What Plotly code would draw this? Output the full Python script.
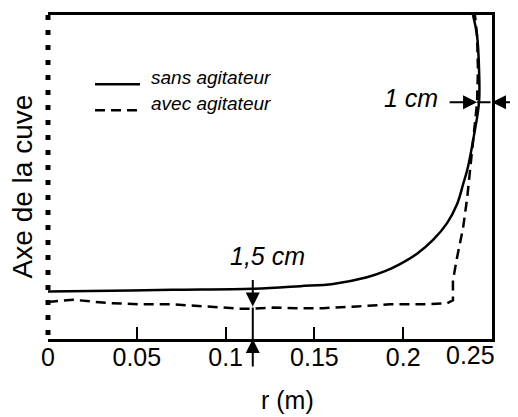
import plotly.graph_objects as go

# ---- data (r in m, height in cm above the bottom) ----
r_sans = [0.0, 0.035, 0.070, 0.1154, 0.142, 0.1605, 0.1796, 0.1898, 0.1982, 0.2078, 0.2168,
          0.2247, 0.2303, 0.2337, 0.2365, 0.2399, 0.2427, 0.2427, 0.2416, 0.2393]
h_sans = [2.35, 2.38, 2.43, 2.48, 2.61, 2.72, 3.05, 3.35, 3.70, 4.21, 4.89,
          5.72, 6.65, 7.63, 8.51, 10.08, 11.69, 13.31, 14.97, 16.0]

r_avec = [0.0, 0.0141, 0.0332, 0.0518, 0.0704, 0.0895, 0.1081, 0.1154, 0.1267, 0.1402,
          0.1548, 0.1740, 0.1926, 0.2111, 0.2247, 0.2280, 0.2280, 0.2303, 0.2337,
          0.2360, 0.2376, 0.2399, 0.2416, 0.2421, 0.2416, 0.2404]
h_avec = [1.83, 1.94, 1.78, 1.71, 1.71, 1.61, 1.50, 1.50, 1.55, 1.52,
          1.52, 1.61, 1.71, 1.71, 1.76, 1.91, 2.89, 4.01, 5.48,
          6.95, 8.27, 10.08, 11.69, 13.31, 14.97, 16.0]

tick_vals = [0, 0.05, 0.1, 0.15, 0.2, 0.25]
tick_text = ["0", "0.05", "0.1", "0.15", "0.2", ""]
legend_names = ["sans agitateur", "avec agitateur"]

X_RANGE = [0, 0.25]
Y_RANGE = [0, 16]

FONT = "Liberation Sans, Arial, sans-serif"

fig = go.Figure()
fig.add_trace(go.Scatter(x=r_sans, y=h_sans, mode="lines", name=legend_names[0],
                         line=dict(color="black", width=2.5, shape="spline", smoothing=1.0),
                         showlegend=False, hoverinfo="skip"))
fig.add_trace(go.Scatter(x=r_avec, y=h_avec, mode="lines", name=legend_names[1],
                         line=dict(color="black", width=2.5, dash="10px,6px"),
                         showlegend=False, hoverinfo="skip"))

ann = []
shapes = []

# left dotted line (tank axis)
shapes.append(dict(type="line", xref="paper", yref="paper", x0=0, x1=0, y0=1, y1=0,
                   line=dict(color="black", width=5, dash="5px,10px")))

# legend (manual)
shapes.append(dict(type="line", xref="paper", yref="paper", x0=0.1059, x1=0.2072,
                   y0=0.786, y1=0.786, line=dict(color="black", width=2.5)))
shapes.append(dict(type="line", xref="paper", yref="paper", x0=0.1059, x1=0.2072,
                   y0=0.7064, y1=0.7064, line=dict(color="black", width=2.5, dash="10px,6px")))
ann.append(dict(text=legend_names[0], xref="paper", yref="paper", x=0.228, y=0.806,
                xanchor="left", yanchor="middle", showarrow=False,
                font=dict(family=FONT, size=19, style="italic", color="black")))
ann.append(dict(text=legend_names[1], xref="paper", yref="paper", x=0.228, y=0.726,
                xanchor="left", yanchor="middle", showarrow=False,
                font=dict(family=FONT, size=19, style="italic", color="black")))

arrow_kw = dict(showarrow=True, arrowhead=2, arrowsize=1.4, arrowwidth=2,
                arrowcolor="black", text="", xref="x", yref="y", standoff=0)

# "1 cm" arrows
y1cm = 11.69
ann.append(dict(x=0.2416, y=y1cm, ax=-29, ay=0, **arrow_kw))
ann.append(dict(x=0.25, y=y1cm, ax=26, ay=0, **arrow_kw))
ann.append(dict(x=0.2416, y=y1cm, ax=15, ay=0, **{**arrow_kw, "arrowhead": 0}))
ann.append(dict(text="1 cm", x=0.2044, y=11.9, xref="x", yref="y", showarrow=False,
                xanchor="center", yanchor="middle",
                font=dict(family=FONT, size=25, style="italic", color="black")))

# "1,5 cm" arrows
x15 = 0.1153
ann.append(dict(x=x15, y=1.61, ax=0, ay=-28, **arrow_kw))
ann.append(dict(x=x15, y=0, ax=0, ay=29, **arrow_kw))
ann.append(dict(x=x15, y=0, ax=0, ay=-33, **{**arrow_kw, "arrowhead": 0}))
ann.append(dict(text="1,5 cm", x=0.1235, y=4.1, xref="x", yref="y", showarrow=False,
                xanchor="center", yanchor="middle",
                font=dict(family=FONT, size=25, style="italic", color="black")))

# axis titles & shifted last tick label
ann.append(dict(text="0.25", xref="paper", yref="paper", x=0.9527, y=0, yshift=-16,
                xanchor="center", yanchor="middle", showarrow=False,
                font=dict(family=FONT, size=25, color="black")))
ann.append(dict(text="r (m)", xref="paper", yref="paper", x=0.5405, y=0, yshift=-61,
                xanchor="center", yanchor="middle", showarrow=False,
                font=dict(family=FONT, size=25, color="black")))
ann.append(dict(text="Axe de la cuve", xref="paper", yref="paper", x=0, xshift=-26, y=0.471,
                textangle=-90, xanchor="center", yanchor="middle", showarrow=False,
                font=dict(family=FONT, size=28, color="black")))

# page body has an 8 px margin: figure is 8 px smaller and shifted accordingly
fig.update_layout(
    width=510, height=409,
    margin=dict(l=40, r=26, t=4, b=78),
    paper_bgcolor="white", plot_bgcolor="white",
    font=dict(family=FONT, size=25, color="black"),
    xaxis=dict(range=X_RANGE, tickvals=tick_vals, ticktext=tick_text,
               ticks="inside", ticklen=12, tickwidth=2, tickcolor="black",
               ticklabelstandoff=-6,
               showline=True, linewidth=2.5, linecolor="black", mirror=True,
               showgrid=False, zeroline=False,
               tickfont=dict(family=FONT, size=25, color="black")),
    yaxis=dict(range=Y_RANGE, side="right", showline=True, linewidth=2.5, linecolor="black",
               showticklabels=False, ticks="", showgrid=False, zeroline=False),
    annotations=ann, shapes=shapes,
)

fig.write_html("out.html")
